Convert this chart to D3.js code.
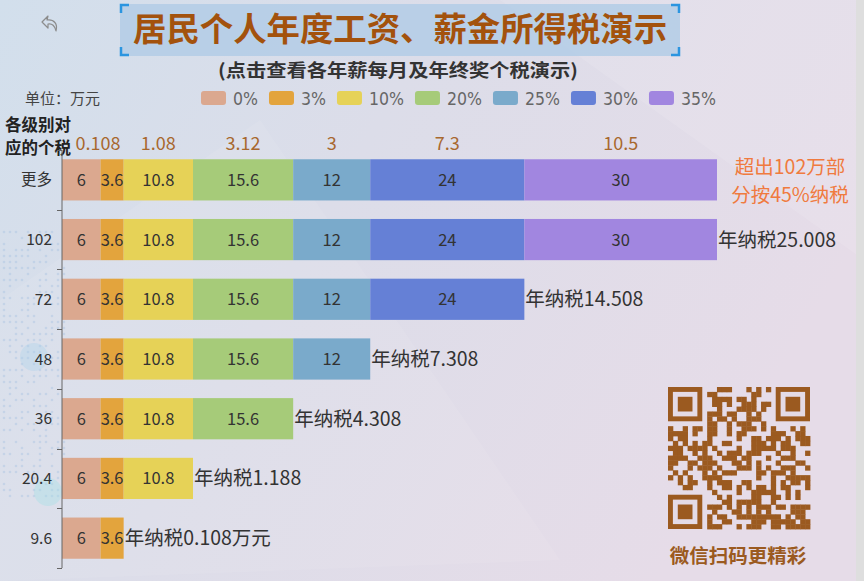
<!DOCTYPE html>
<html><head><meta charset="utf-8">
<script src="https://cdn.jsdelivr.net/npm/d3@7/dist/d3.min.js"></script>
<style>
html,body{margin:0;padding:0;overflow:hidden;}
svg{display:block;font-family:"Noto Sans CJK SC","Noto Sans",sans-serif;}
</style></head>
<body><svg id="c" width="864" height="581"></svg>
<script>
// ---- data ----
const categories = ["更多","102","72","48","36","20.4","9.6"];
const brackets = ["0%","3%","10%","20%","25%","30%","35%"];
const bracketColors = ["#dba88f","#e3a43d","#e6d257","#a6cb79","#7aaacb","#6580d6","#a186e0"];
const s0  = [6,6,6,6,6,6,6];
const s3  = [3.6,3.6,3.6,3.6,3.6,3.6,3.6];
const s10 = [10.8,10.8,10.8,10.8,10.8,10.8,null];
const s20 = [15.6,15.6,15.6,15.6,15.6,null,null];
const s25 = [12,12,12,12,null,null,null];
const s30 = [24,24,24,null,null,null,null];
const s35 = [30,30,null,null,null,null,null];
const seriesValues = [s0,s3,s10,s20,s25,s30,s35];
const bracketTax = [null,"0.108","1.08","3.12","3","7.3","10.5"];
const totalLabels = [null,"年纳税25.008","年纳税14.508","年纳税7.308","年纳税4.308","年纳税1.188","年纳税0.108万元"];
const xMax = 102;

const svg = d3.select("#c");
const W = 864, H = 581;

// ---- background ----
const defs = svg.append("defs");
const g1 = defs.append("linearGradient").attr("id","bg").attr("x1","0").attr("y1","0").attr("x2","1").attr("y2","0.4");
g1.append("stop").attr("offset","0").attr("stop-color","#d2dfec");
g1.append("stop").attr("offset","0.45").attr("stop-color","#dcdde9");
g1.append("stop").attr("offset","1").attr("stop-color","#e6dce8");
svg.append("rect").attr("width",W).attr("height",H).attr("fill","url(#bg)");
svg.append("path").attr("d","M0,300 L260,120 L560,560 L0,581 Z").attr("fill","#ffffff").attr("opacity",0.08);
svg.append("path").attr("d","M500,0 L864,0 L864,260 Z").attr("fill","#ffffff").attr("opacity",0.10);
// dotted map texture on the left
const dots = svg.append("g").attr("fill","#9fbde0").attr("opacity",0.35);
for (let yy=232; yy<500; yy+=6){
  for (let xx=4; xx<70; xx+=6){
    const h = Math.sin(xx*12.9898+yy*78.233)*43758.5453;
    if (h-Math.floor(h) > 0.45) dots.append("circle").attr("cx",xx).attr("cy",yy).attr("r",1.3);
  }
}
svg.append("circle").attr("cx",34).attr("cy",357).attr("r",14).attr("fill","#a9d2ea").attr("opacity",0.35);
svg.append("circle").attr("cx",48).attr("cy",492).attr("r",14).attr("fill","#9ee0e6").attr("opacity",0.35);
svg.append("rect").attr("x",856).attr("y",0).attr("width",8).attr("height",H).attr("fill","#dedede");

// back icon
svg.append("path").attr("d","M56,31 C58,24 54,19 47,20 L48,16 L42,22 L48,28 L48,24 C52,23 55,26 56,31 Z")
  .attr("fill","none").attr("stroke","#8c8c8c").attr("stroke-width",1.2).attr("stroke-linejoin","round");

// ---- title ----
svg.append("rect").attr("x",120).attr("y",4).attr("width",560).attr("height",52).attr("fill","#b3cde6").attr("opacity",0.85);
const br = svg.append("g").attr("stroke","#2b95e0").attr("stroke-width",2.5).attr("fill","none");
br.append("path").attr("d","M121,13 V5 H129");
br.append("path").attr("d","M671,5 H679 V13");
br.append("path").attr("d","M121,47 V55 H129");
br.append("path").attr("d","M671,55 H679 V47");
svg.append("text").attr("x",400).attr("y",41).attr("text-anchor","middle")
  .attr("font-size",33).attr("font-weight","bold").attr("fill","#a3520d")
  .attr("textLength",534).attr("lengthAdjust","spacingAndGlyphs")
  .text("居民个人年度工资、薪金所得税演示");
svg.append("text").attr("x",398).attr("y",77).attr("text-anchor","middle")
  .attr("font-size",18).attr("font-weight","bold").attr("fill","#333")
  .attr("textLength",360).attr("lengthAdjust","spacingAndGlyphs")
  .text("(点击查看各年薪每月及年终奖个税演示)");

// ---- legend ----
svg.append("text").attr("x",25).attr("y",104).attr("font-size",15).attr("fill","#444").text("单位：万元");
const leg = svg.append("g").attr("font-family","'DejaVu Sans Condensed','Liberation Sans Narrow',sans-serif");
let lx = 201;
brackets.forEach((b,i)=>{
  leg.append("rect").attr("x",lx).attr("y",91).attr("width",25).attr("height",14).attr("rx",3).attr("fill",bracketColors[i]);
  const t = leg.append("text").attr("x",lx+32).attr("y",105).attr("font-size",17.5).attr("fill","#666").text(b);
  lx += 32 + t.node().getComputedTextLength() + 11;
});

// ---- scales ----
const x = d3.scaleLinear().domain([0,xMax]).range([62,717]);
const y = d3.scaleBand().domain(categories).range([150,568]).paddingInner(0.31).paddingOuter(0.155);

// left header
svg.append("text").attr("x",5).attr("y",131).attr("font-size",16.5).attr("font-weight","bold").attr("fill","#222").text("各级别对");
svg.append("text").attr("x",5).attr("y",154).attr("font-size",16.5).attr("font-weight","bold").attr("fill","#222").text("应的个税");

// stacked data
const stacked = categories.map((c,ri)=>{
  let acc = 0; const segs = [];
  seriesValues.forEach((s,si)=>{
    const v = s[ri];
    if (v!=null){ segs.push({cat:c, si, v, x0:acc, x1:acc+v}); acc += v; }
  });
  return {cat:c, ri, segs, total:acc};
});

// bracket tax labels on top (centered on bracket segments of first row)
const topRow = stacked[0];
svg.append("g").selectAll("text").data(topRow.segs.filter(d=>bracketTax[d.si]!=null)).join("text")
  .attr("x",d=> (x((d.x0+d.x1)/2)) + (d.si===1 ? -14 : 0))
  .attr("y",150).attr("text-anchor","middle").attr("font-size",18).attr("fill","#a8682e")
  .text(d=>bracketTax[d.si]);

// bars
const rows = svg.append("g").selectAll("g").data(stacked).join("g");
rows.selectAll("rect").data(d=>d.segs).join("rect")
  .attr("x",d=>x(d.x0)).attr("width",d=>x(d.x1)-x(d.x0))
  .attr("y",d=>y(d.cat)).attr("height",y.bandwidth())
  .attr("fill",d=>bracketColors[d.si]);
rows.selectAll("text.v").data(d=>d.segs).join("text").attr("class","v")
  .attr("x",d=>x((d.x0+d.x1)/2)).attr("y",d=>y(d.cat)+y.bandwidth()/2+6)
  .attr("text-anchor","middle").attr("font-size",16.5).attr("fill","#333")
  .text(d=>d.v);
rows.filter(d=>totalLabels[d.ri]!=null).append("text")
  .attr("x",d=>x(d.total)+1).attr("y",d=>y(d.cat)+y.bandwidth()/2+7)
  .attr("font-size",19.5).attr("fill","#333").text(d=>totalLabels[d.ri]);

// annotation for top row
const ann = svg.append("g").attr("font-size",19.5).attr("fill","#f07a3e").attr("text-anchor","middle");
ann.append("text").attr("x",x(xMax)+73).attr("y",y("更多")+15).text("超出102万部");
ann.append("text").attr("x",x(xMax)+73).attr("y",y("更多")+43).text("分按45%纳税");

// y axis
const yAxis = svg.append("g");
yAxis.append("line").attr("x1",62).attr("x2",62).attr("y1",150).attr("y2",568).attr("stroke","#666").attr("stroke-width",1);
const bounds = categories.map(c=>y(c)-y.step()*y.paddingInner()/2).concat([568]);
yAxis.selectAll("line.t").data(bounds).join("line").attr("class","t")
  .attr("x1",57).attr("x2",62).attr("y1",d=>Math.round(d)+0.5).attr("y2",d=>Math.round(d)+0.5).attr("stroke","#666");
yAxis.selectAll("text").data(categories).join("text")
  .attr("x",52).attr("y",c=>y(c)+y.bandwidth()/2+5.5).attr("text-anchor","end")
  .attr("font-size",15.5).attr("fill","#333").text(c=>c);

// ---- QR code decoration ----
const qr = svg.append("g").attr("fill","#9b5a20");
const N = 29, qs = 142/N, qx = 668, qy = 387;
function finder(cx,cy){
  qr.append("rect").attr("x",qx+cx*qs).attr("y",qy+cy*qs).attr("width",7*qs).attr("height",7*qs);
  qr.append("rect").attr("x",qx+(cx+1)*qs).attr("y",qy+(cy+1)*qs).attr("width",5*qs).attr("height",5*qs).attr("fill","#e4dbe6");
  qr.append("rect").attr("x",qx+(cx+2)*qs).attr("y",qy+(cy+2)*qs).attr("width",3*qs).attr("height",3*qs);
}
finder(0,0); finder(N-7,0); finder(0,N-7);
for (let r=0;r<N;r++) for (let c=0;c<N;c++){
  const inF = (r<8&&c<8)||(r<8&&c>=N-8)||(r>=N-8&&c<8);
  if (inF) continue;
  const h = Math.sin((r+1)*91.345+(c+1)*47.853)*24634.6345;
  if (h-Math.floor(h) < 0.52)
    qr.append("rect").attr("x",qx+c*qs).attr("y",qy+r*qs).attr("width",qs+0.4).attr("height",qs+0.4);
}
svg.append("text").attr("x",738).attr("y",563).attr("text-anchor","middle").attr("font-size",19.5)
  .attr("font-weight","bold").attr("fill","#9b5a20").text("微信扫码更精彩");
</script></body></html>
